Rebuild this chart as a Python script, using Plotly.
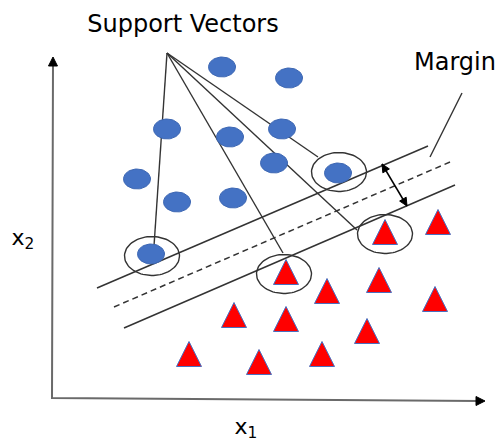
import numpy as np
import plotly.graph_objects as go

# ---- data (diagram units: x to the right, y downward) ----
blue_x = [222, 289, 167, 230, 282, 274, 137, 177, 233, 338, 151]
blue_y = [67, 78, 129, 137, 129, 163, 179, 202, 198, 173, 254]

red_x = [385, 438, 286, 327, 379, 435, 234, 286, 367, 189, 259, 322]
red_y = [232, 222, 272, 291, 280, 299, 315, 319, 331, 354, 362, 354]

sv_x = [339, 152, 284, 385]
sv_y = [172, 256, 274, 234]

callout_origin = (167, 53)
callout_end_x = [154, 283, 357, 318]
callout_end_y = [246, 253, 230, 157]

upper_x = [97, 428]
upper_y = [288, 146]
hyper_x = [114, 450]
hyper_y = [307, 162]
lower_x = [124, 455]
lower_y = [328, 185]

margin_ptr_x = [462, 430]
margin_ptr_y = [93, 157]
margin_arrow_x = [382, 407]
margin_arrow_y = [164, 206]

origin = (52, 398)
y_tip = (53, 57)
x_tip = (485, 401)

label_text = ["Support Vectors", "Margin", "x<sub>2</sub>", "x<sub>1</sub>"]
label_x = [183, 455, 23, 246]
label_y = [26, 64, 239, 428]

LINE = "#333333"
BLUE = "#4472C4"
RED = "#FF0000"

fig = go.Figure()


def ellipse_path(cx, cy, rx, ry, n=60):
    xs, ys = [], []
    t = np.linspace(0, 2 * np.pi, n)
    for x0, y0 in zip(cx, cy):
        xs += list(x0 + rx * np.cos(t)) + [None]
        ys += list(y0 + ry * np.sin(t)) + [None]
    return xs, ys


def triangle_path(cx, cy, w, h):
    xs, ys = [], []
    for x0, y0 in zip(cx, cy):
        xs += [x0 - w / 2, x0 + w / 2, x0, x0 - w / 2, None]
        ys += [y0 + h / 2, y0 + h / 2, y0 - h / 2, y0 + h / 2, None]
    return xs, ys


def arrowhead_path(tips, tails, length, half_w):
    xs, ys = [], []
    for (tx, ty), (sx, sy) in zip(tips, tails):
        d = np.array([tx - sx, ty - sy], dtype=float)
        d /= np.linalg.norm(d)
        p = np.array([-d[1], d[0]])
        b = np.array([tx, ty]) - d * length
        xs += [tx, b[0] + p[0] * half_w, b[0] - p[0] * half_w, tx, None]
        ys += [ty, b[1] + p[1] * half_w, b[1] - p[1] * half_w, ty, None]
    return xs, ys


# axes lines
fig.add_trace(go.Scatter(x=[y_tip[0], origin[0], x_tip[0] - 6], y=[y_tip[1] + 6, origin[1], x_tip[1]],
                         mode="lines", line=dict(color="#6a6a6a", width=2), hoverinfo="skip"))
ax_x, ax_y = arrowhead_path([y_tip, x_tip], [origin, (origin[0], x_tip[1])], 9, 4.5)
fig.add_trace(go.Scatter(x=ax_x, y=ax_y, mode="lines", fill="toself", fillcolor="black",
                         line=dict(color="black", width=1), hoverinfo="skip"))

# callout lines
cx, cy = [], []
for ex, ey in zip(callout_end_x, callout_end_y):
    cx += [callout_origin[0], ex, None]
    cy += [callout_origin[1], ey, None]
fig.add_trace(go.Scatter(x=cx, y=cy, mode="lines", line=dict(color=LINE, width=1.4), hoverinfo="skip"))

# hyperplanes
fig.add_trace(go.Scatter(x=upper_x, y=upper_y, mode="lines", line=dict(color=LINE, width=1.5), hoverinfo="skip"))
fig.add_trace(go.Scatter(x=lower_x, y=lower_y, mode="lines", line=dict(color=LINE, width=1.5), hoverinfo="skip"))
fig.add_trace(go.Scatter(x=hyper_x, y=hyper_y, mode="lines",
                         line=dict(color=LINE, width=1.5, dash="6px,4px"), hoverinfo="skip"))
fig.add_trace(go.Scatter(x=margin_ptr_x, y=margin_ptr_y, mode="lines", line=dict(color=LINE, width=1.4), hoverinfo="skip"))

# margin double arrow
fig.add_trace(go.Scatter(x=margin_arrow_x, y=margin_arrow_y, mode="lines",
                         line=dict(color="black", width=1.5), hoverinfo="skip"))
m_tips = [(margin_arrow_x[0], margin_arrow_y[0]), (margin_arrow_x[1], margin_arrow_y[1])]
m_tails = [m_tips[1], m_tips[0]]
mx, my = arrowhead_path(m_tips, m_tails, 8, 3.8)
fig.add_trace(go.Scatter(x=mx, y=my, mode="lines", fill="toself", fillcolor="black",
                         line=dict(color="black", width=1), hoverinfo="skip"))

# blue points
bx, by = ellipse_path(blue_x, blue_y, 13.5, 10)
fig.add_trace(go.Scatter(x=bx, y=by, mode="lines", fill="toself", fillcolor=BLUE,
                         line=dict(color="#3d67b3", width=1), hoverinfo="skip"))

# red triangles
tx, ty = triangle_path(red_x, red_y, 25, 25)
fig.add_trace(go.Scatter(x=tx, y=ty, mode="lines", fill="toself", fillcolor=RED,
                         line=dict(color="#4a6fc0", width=1), hoverinfo="skip"))

# support vector rings
sx, sy = ellipse_path(sv_x, sv_y, 27.5, 19.5, 80)
fig.add_trace(go.Scatter(x=sx, y=sy, mode="lines", line=dict(color=LINE, width=1.4), hoverinfo="skip"))

# labels
fig.add_trace(go.Scatter(x=label_x[:2], y=label_y[:2], mode="text", text=label_text[:2],
                         textposition="middle center",
                         textfont=dict(family="DejaVu Sans", size=24, color="black"), hoverinfo="skip"))
fig.add_trace(go.Scatter(x=label_x[2:], y=label_y[2:], mode="text", text=label_text[2:],
                         textposition="middle center",
                         textfont=dict(family="DejaVu Sans", size=22, color="black"), hoverinfo="skip"))

fig.update_layout(
    width=502, height=442,
    margin=dict(l=0, r=0, t=0, b=0),
    font=dict(family="DejaVu Sans", size=22, color="black"),
    paper_bgcolor="white", plot_bgcolor="white",
    showlegend=False,
    xaxis=dict(range=[0, 502], visible=False, fixedrange=True),
    yaxis=dict(range=[442, 0], visible=False, fixedrange=True),
)

fig.write_html("out.html", config={"displayModeBar": False},
               post_script="document.body.style.margin='0';")
